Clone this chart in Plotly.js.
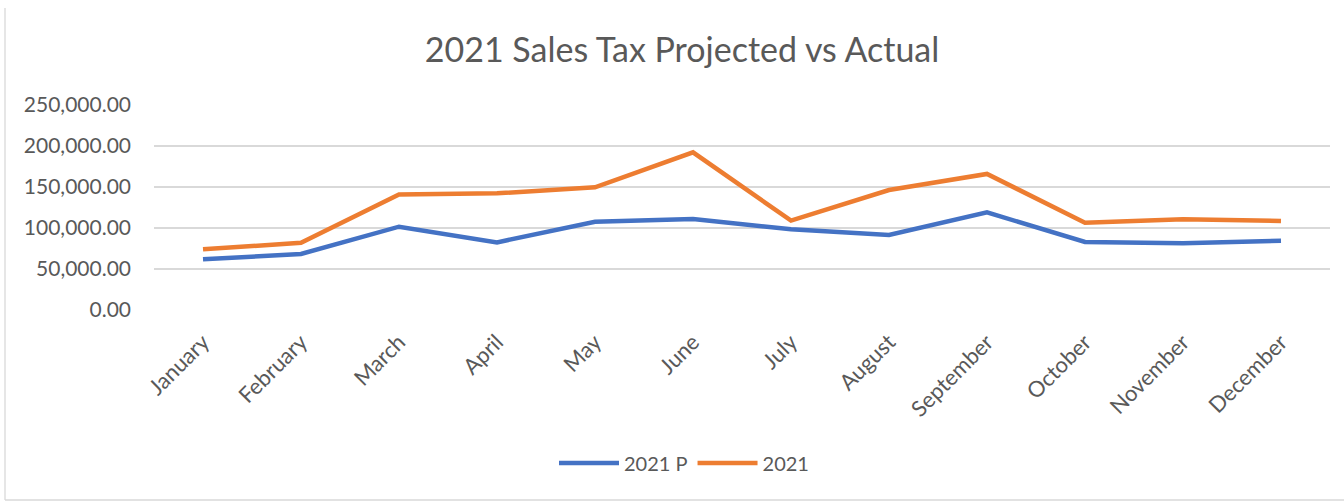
<!DOCTYPE html>
<html>
<head>
<meta charset="utf-8">
<script src="https://cdn.plot.ly/plotly-3.0.1.min.js"></script>
<style>html,body{margin:0;padding:0;background:#fff;}#chart{width:1344px;height:501px;}</style>
</head>
<body>
<div id="chart"></div>
<script>
const months = ["January","February","March","April","May","June","July","August","September","October","November","December"];
const projected = [61800, 68300, 101600, 82500, 107700, 111000, 98400, 91500, 119000, 83000, 81300, 84500];
const actual = [74000, 82000, 141000, 142300, 149600, 192300, 109000, 146300, 165900, 106500, 110600, 108500];
const yTicks = [0, 50000, 100000, 150000, 200000, 250000];
const yTickText = ["0.00","50,000.00","100,000.00","150,000.00","200,000.00","250,000.00"];

const W = 1344, H = 501, L = 154, R = 14, T = 105, B = 191;
const pw = W - L - R, ph = H - T - B;
const px = v => (v - L) / pw;
const py = v => (H - B - v) / ph;

const traces = [
  {x: months, y: projected, name: "2021 P", type: "scatter", mode: "lines",
   line: {color: "#4472C4", width: 4.5}},
  {x: months, y: actual, name: "2021", type: "scatter", mode: "lines",
   line: {color: "#ED7D31", width: 4.5}}
];

const layout = {
  width: W, height: H,
  margin: {l: L, r: R, t: T, b: B, pad: 0},
  paper_bgcolor: "#fff", plot_bgcolor: "#fff",
  font: {family: "Lato, 'Open Sans', sans-serif", color: "#595959"},
  title: {text: "2021 Sales Tax Projected vs Actual", font: {size: 34, color: "#595959"},
          x: px(682), xanchor: "center", xref: "paper", y: 1 - 50/H, yanchor: "middle"},
  xaxis: {type: "category", range: [-0.5, 11.5], tickangle: -45, showgrid: false,
          showline: false, zeroline: false, ticks: "", ticklabelstandoff: 14,
          tickfont: {size: 22, color: "#595959"}},
  yaxis: {range: [0, 250000], tickvals: yTicks, ticktext: yTickText, showgrid: true,
          gridcolor: "#D9D9D9", gridwidth: 1.3, zeroline: false, showline: false, ticks: "",
          ticklabelstandoff: 22, tickfont: {size: 21, color: "#595959"}},
  showlegend: true,
  legend: {orientation: "h", x: px(684), xanchor: "center", y: py(463), yanchor: "middle",
           font: {size: 20, color: "#595959"}, itemwidth: 60, tracegroupgap: 0},
  shapes: [
    {type: "line", xref: "paper", yref: "paper", x0: px(5), x1: px(5), y0: py(8), y1: py(500),
     line: {color: "#D9D9D9", width: 1.3}},
    {type: "line", xref: "paper", yref: "paper", x0: px(5), x1: px(1344), y0: py(500), y1: py(500),
     line: {color: "#D9D9D9", width: 1.3}}
  ]
};

Plotly.newPlot("chart", traces, layout, {displayModeBar: false, staticPlot: true});
</script>
</body>
</html>
